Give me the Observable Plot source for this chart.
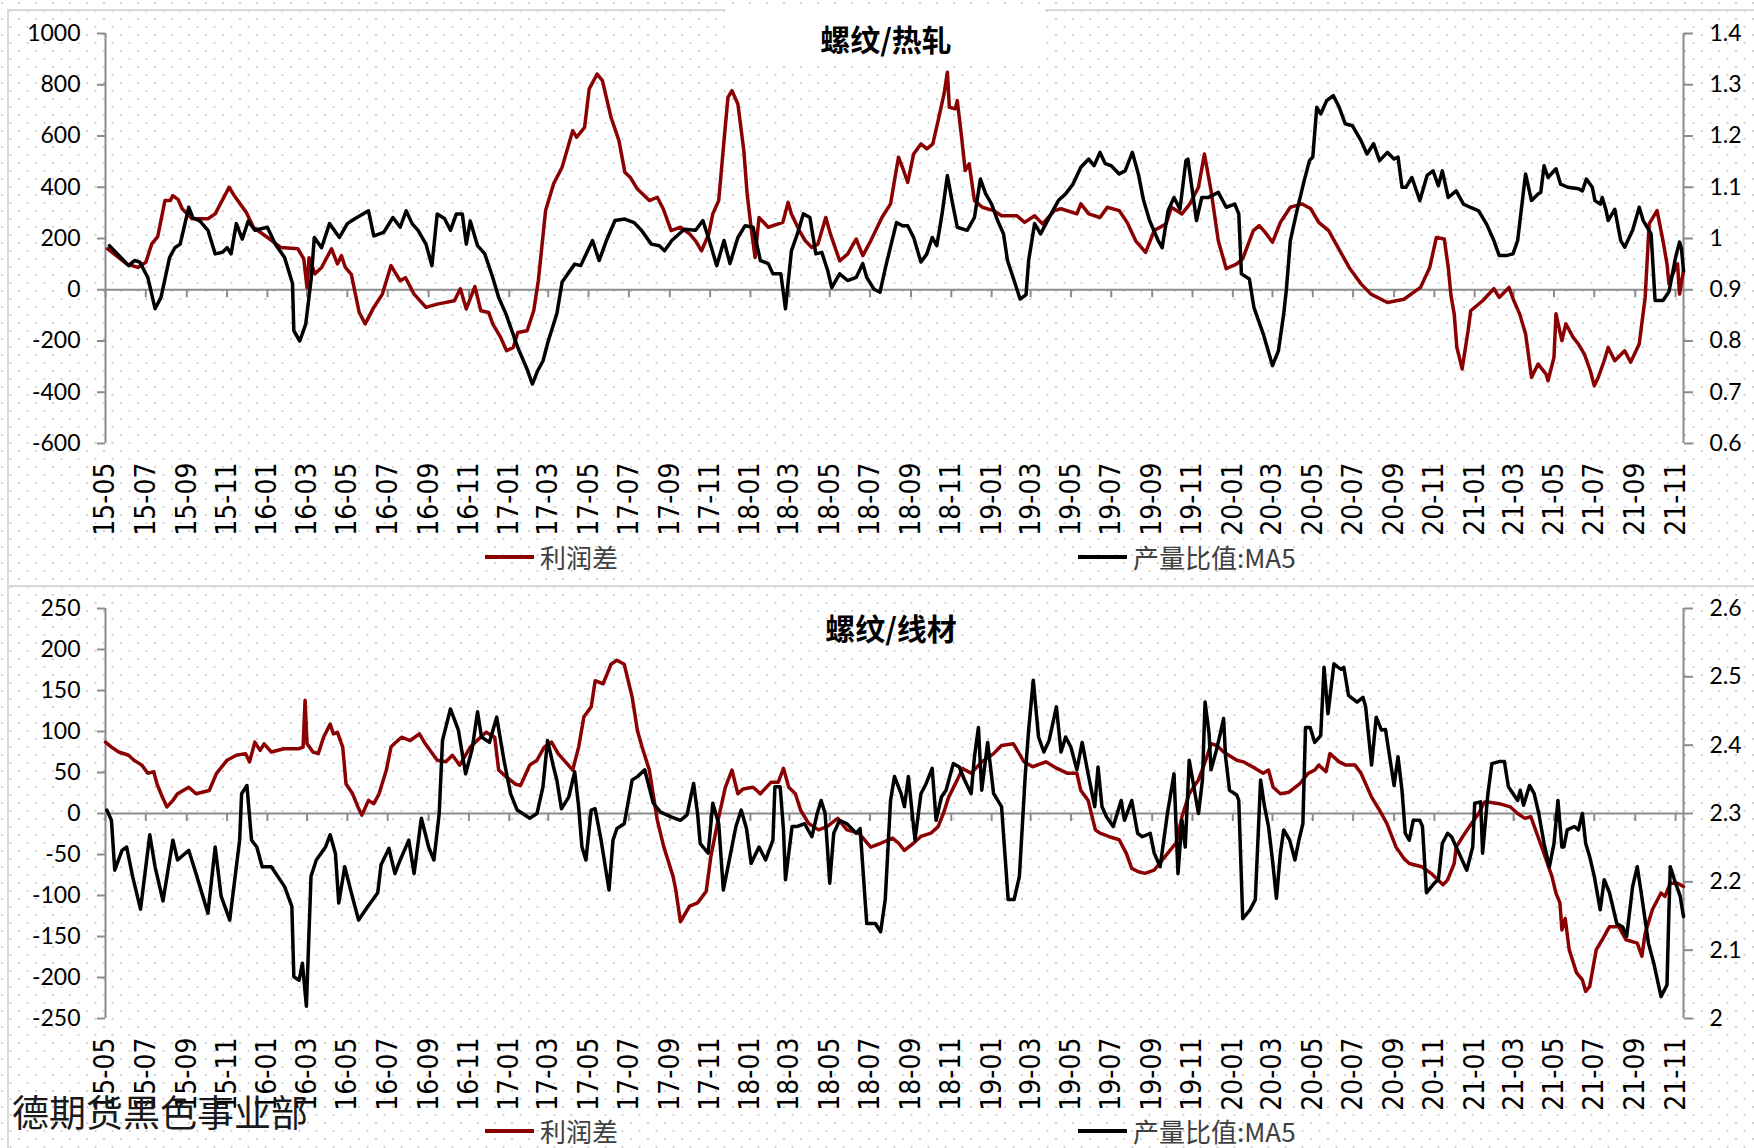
<!DOCTYPE html>
<html>
<head>
<meta charset="utf-8">
<script src="https://cdn.jsdelivr.net/npm/d3@7"></script>
<script src="https://cdn.jsdelivr.net/npm/@observablehq/plot@0.6"></script>
<style>
  html, body { margin: 0; padding: 0; }
  body { width: 1754px; height: 1148px; overflow: hidden; position: relative; background: #fff; }
  #bg { position: absolute; left: 0; top: 0; width: 1754px; height: 1148px;
    background-image: url("data:image/svg+xml;utf8,<svg xmlns='http://www.w3.org/2000/svg' width='17' height='16'><rect x='1' y='2' width='2' height='2' fill='%23d3d3d3'/><rect x='9.5' y='10' width='2' height='2' fill='%23d3d3d3'/></svg>");
    background-size: 17px 16px; }
  .panel { position: absolute; border: 2px solid #d9d9d9; box-sizing: border-box; }
  .titlebox { position: absolute; background: #fff; }
  .title { position: absolute; transform: translate(-50%, -50%); font-family: "Noto Sans CJK SC", sans-serif; font-weight: 700; font-size: 30px; line-height: 1; color: #000; white-space: nowrap; }
  .chart { position: absolute; left: 0; }
  .legend { position: absolute; display: flex; align-items: center; font-family: "Noto Sans CJK SC", sans-serif; font-size: 26px; line-height: 1; color: #404040; white-space: nowrap; transform: translateY(-50%); }
  .legend .sw { display: inline-block; width: 49px; height: 4px; margin-right: 6px; }
  .mark { position: absolute; left: 12px; top: 1093px; font-family: "Noto Sans CJK SC", sans-serif; font-size: 37px; line-height: 1; font-weight: 400; color: #1a1a1a; white-space: nowrap; }
</style>
</head>
<body>
<div id="bg"></div>
<div class="panel" style="left:7px;top:9px;width:1800px;height:578px;"></div>
<div class="panel" style="left:7px;top:585px;width:1800px;height:700px;"></div>
<div class="titlebox" style="left:725px;top:8px;width:320px;height:54px;"></div>
<div id="top" class="chart" style="top:0px;"></div>
<div id="bottom" class="chart" style="top:575px;"></div>
<div class="title" style="left:886px;top:38px;">螺纹/热轧</div>
<div class="title" style="left:891px;top:627px;">螺纹/线材</div>
<div class="legend" style="left:485px;top:557px;"><span class="sw" style="background:#8b0000"></span>利润差</div>
<div class="legend" style="left:1078px;top:557px;"><span class="sw" style="background:#000"></span>产量比值:MA5</div>
<div class="legend" style="left:485px;top:1131px;"><span class="sw" style="background:#8b0000"></span>利润差</div>
<div class="legend" style="left:1078px;top:1131px;"><span class="sw" style="background:#000"></span>产量比值:MA5</div>
<div class="mark">德期货黑色事业部</div>
<script>
// ---------- data ----------
const seriesNames = ["利润差", "产量比值:MA5"];
const titles = ["螺纹/热轧", "螺纹/线材"];

// 螺纹/热轧: 利润差 (left axis)
const hcProfit = [["2015-05-04",160],["2015-06-02",101],["2015-06-19",87],["2015-07-01",107],["2015-07-10",179],["2015-07-19",207],["2015-07-30",348],["2015-08-07",348],["2015-08-11",367],["2015-08-19",352],["2015-08-25",316],["2015-09-09",277],["2015-10-03",277],["2015-10-14",296],["2015-11-04",400],["2015-11-12",367],["2015-11-30",302],["2015-12-11",243],["2016-01-04",199],["2016-01-21",165],["2016-02-16",160],["2016-02-25",121],["2016-03-01",8],["2016-03-04",125],["2016-03-13",62],["2016-03-23",87],["2016-04-07",160],["2016-04-16",101],["2016-04-22",133],["2016-04-28",87],["2016-05-07",60],["2016-05-19",-89],["2016-05-28",-133],["2016-06-10",-69],["2016-06-23",-17],["2016-07-06",94],["2016-07-20",35],["2016-07-28",47],["2016-08-10",-17],["2016-08-28",-69],["2016-09-14",-56],["2016-10-10",-43],["2016-10-19",4],["2016-10-28",-75],["2016-11-10",12],["2016-11-19",-82],["2016-12-01",-89],["2016-12-07",-133],["2016-12-19",-186],["2016-12-28",-238],["2017-01-07",-225],["2017-01-14",-167],["2017-01-28",-160],["2017-02-07",-82],["2017-02-14",35],["2017-02-25",309],["2017-03-09",413],["2017-03-22",478],["2017-04-07",621],["2017-04-13",595],["2017-04-25",634],["2017-05-02",784],["2017-05-14",842],["2017-05-22",816],["2017-06-04",673],["2017-06-16",582],["2017-06-25",458],["2017-07-03",439],["2017-07-14",393],["2017-08-01",348],["2017-08-13",361],["2017-08-22",316],["2017-09-03",231],["2017-09-17",244],["2017-10-01",218],["2017-10-10",191],["2017-10-19",152],["2017-10-30",218],["2017-11-05",296],["2017-11-14",348],["2017-11-22",582],["2017-11-28",751],["2017-12-04",777],["2017-12-13",725],["2017-12-22",543],["2017-12-27",374],["2018-01-02",243],["2018-01-08",126],["2018-01-14",282],["2018-01-28",244],["2018-02-19",263],["2018-02-27",341],["2018-03-04",296],["2018-03-16",231],["2018-03-25",191],["2018-04-04",165],["2018-04-13",178],["2018-04-25",282],["2018-05-02",218],["2018-05-16",113],["2018-05-28",139],["2018-06-10",198],["2018-06-20",133],["2018-07-02",191],["2018-07-19",282],["2018-08-01",335],["2018-08-13",517],["2018-08-19",478],["2018-08-27",419],["2018-09-05",530],["2018-09-16",569],["2018-09-25",550],["2018-10-04",569],["2018-10-12",660],["2018-10-21",764],["2018-10-26",849],["2018-10-29",712],["2018-11-07",706],["2018-11-10",738],["2018-11-16",608],["2018-11-22",465],["2018-11-28",491],["2018-12-06",348],["2018-12-18",322],["2019-01-04",309],["2019-01-16",289],["2019-02-08",289],["2019-02-20",263],["2019-03-07",289],["2019-03-19",257],["2019-04-06",309],["2019-04-16",316],["2019-05-10",296],["2019-05-16",335],["2019-05-28",296],["2019-06-14",282],["2019-06-25",322],["2019-07-13",309],["2019-07-25",263],["2019-08-07",191],["2019-08-22",146],["2019-09-04",231],["2019-09-22",257],["2019-09-30",322],["2019-10-16",296],["2019-10-28",335],["2019-11-10",400],["2019-11-19",530],["2019-11-29",387],["2019-12-10",191],["2019-12-22",82],["2020-01-07",101],["2020-01-16",121],["2020-02-01",231],["2020-02-10",250],["2020-02-19",224],["2020-03-01",185],["2020-03-13",263],["2020-03-28",322],["2020-04-15",335],["2020-04-28",316],["2020-05-10",263],["2020-05-25",231],["2020-06-11",152],["2020-06-25",87],["2020-07-13",23],["2020-07-28",-17],["2020-08-22",-50],["2020-09-16",-37],["2020-10-11",9],["2020-10-25",87],["2020-11-04",204],["2020-11-16",198],["2020-11-22",87],["2020-11-26",-20],["2020-12-01",-94],["2020-12-05",-225],["2020-12-13",-309],["2020-12-22",-160],["2020-12-26",-82],["2021-01-13",-43],["2021-01-30",4],["2021-02-07",-30],["2021-02-22",9],["2021-02-28",-35],["2021-03-10",-94],["2021-03-19",-172],["2021-03-28",-342],["2021-04-07",-290],["2021-04-19",-329],["2021-04-22",-355],["2021-05-01",-264],["2021-05-04",-94],["2021-05-13",-199],["2021-05-19",-133],["2021-05-30",-186],["2021-06-07",-212],["2021-06-16",-251],["2021-06-25",-316],["2021-07-01",-375],["2021-07-07",-342],["2021-07-16",-277],["2021-07-22",-225],["2021-08-01",-277],["2021-08-16",-238],["2021-08-25",-283],["2021-09-07",-212],["2021-09-16",-30],["2021-09-22",257],["2021-10-04",309],["2021-10-13",191],["2021-10-19",101],["2021-10-22",23],["2021-10-28",62],["2021-11-04",101],["2021-11-07",-17],["2021-11-13",75]];

// 螺纹/热轧: 产量比值:MA5 (right axis)
const hcRatio = [["2015-05-07",0.986],["2015-05-22",0.966],["2015-06-05",0.947],["2015-06-14",0.957],["2015-06-22",0.954],["2015-07-04",0.924],["2015-07-15",0.863],["2015-07-24",0.885],["2015-08-06",0.963],["2015-08-14",0.982],["2015-08-22",0.989],["2015-08-28",1.022],["2015-09-04",1.061],["2015-09-10",1.041],["2015-09-21",1.034],["2015-10-03",1.016],["2015-10-14",0.970],["2015-10-25",0.973],["2015-11-01",0.982],["2015-11-07",0.970],["2015-11-15",1.029],["2015-11-24",0.999],["2015-12-03",1.034],["2015-12-13",1.016],["2016-01-01",1.022],["2016-01-13",0.989],["2016-01-27",0.963],["2016-02-08",0.912],["2016-02-10",0.820],["2016-02-19",0.800],["2016-02-28",0.833],["2016-03-07",0.918],["2016-03-12",1.002],["2016-03-23",0.982],["2016-04-04",1.029],["2016-04-19",1.002],["2016-05-01",1.029],["2016-05-13",1.039],["2016-06-02",1.054],["2016-06-10",1.005],["2016-06-25",1.012],["2016-07-09",1.041],["2016-07-20",1.022],["2016-07-29",1.054],["2016-08-07",1.029],["2016-08-16",1.016],["2016-08-28",0.989],["2016-09-06",0.947],["2016-09-14",1.048],["2016-09-25",1.039],["2016-10-04",1.016],["2016-10-13",1.048],["2016-10-22",1.048],["2016-10-28",0.989],["2016-11-03",1.034],["2016-11-14",0.986],["2016-11-25",0.970],["2016-12-07",0.924],["2016-12-16",0.885],["2016-12-27",0.853],["2017-01-14",0.787],["2017-01-28",0.745],["2017-02-05",0.716],["2017-02-13",0.742],["2017-02-21",0.761],["2017-03-01",0.800],["2017-03-14",0.853],["2017-03-22",0.915],["2017-04-10",0.950],["2017-04-19",0.947],["2017-05-07",0.996],["2017-05-17",0.957],["2017-05-28",0.996],["2017-06-10",1.035],["2017-06-25",1.038],["2017-07-09",1.031],["2017-07-20",1.016],["2017-08-04",0.989],["2017-08-16",0.986],["2017-08-24",0.976],["2017-09-04",0.996],["2017-09-23",1.018],["2017-10-10",1.016],["2017-10-21",1.035],["2017-10-30",0.999],["2017-11-11",0.947],["2017-11-22",0.996],["2017-12-01",0.951],["2017-12-13",1.002],["2017-12-24",1.025],["2018-01-05",1.022],["2018-01-16",0.957],["2018-01-28",0.951],["2018-02-04",0.931],["2018-02-16",0.931],["2018-02-23",0.863],["2018-03-04",0.976],["2018-03-13",1.009],["2018-03-22",1.048],["2018-04-01",1.041],["2018-04-10",0.970],["2018-04-19",0.973],["2018-04-28",0.937],["2018-05-04",0.904],["2018-05-16",0.931],["2018-05-28",0.918],["2018-06-10",0.924],["2018-06-20",0.951],["2018-06-26",0.924],["2018-07-07",0.901],["2018-07-16",0.895],["2018-07-25",0.947],["2018-08-10",1.031],["2018-08-19",1.025],["2018-08-27",1.025],["2018-09-05",1.002],["2018-09-16",0.954],["2018-09-25",0.970],["2018-10-03",1.002],["2018-10-10",0.986],["2018-10-18",1.048],["2018-10-26",1.123],["2018-11-02",1.074],["2018-11-10",1.022],["2018-11-25",1.016],["2018-12-06",1.041],["2018-12-15",1.116],["2018-12-23",1.087],["2019-01-01",1.067],["2019-01-10",1.035],["2019-01-19",1.009],["2019-01-25",0.957],["2019-02-04",0.918],["2019-02-13",0.882],["2019-02-22",0.890],["2019-02-26",0.957],["2019-03-07",1.029],["2019-03-16",1.009],["2019-04-01",1.048],["2019-04-12",1.074],["2019-04-23",1.087],["2019-05-04",1.106],["2019-05-16",1.139],["2019-05-28",1.155],["2019-06-05",1.142],["2019-06-14",1.168],["2019-06-22",1.146],["2019-07-01",1.142],["2019-07-13",1.126],["2019-07-22",1.132],["2019-08-02",1.168],["2019-08-11",1.126],["2019-08-19",1.074],["2019-08-28",1.035],["2019-09-10",0.996],["2019-09-16",0.982],["2019-09-25",1.054],["2019-10-04",1.080],["2019-10-13",1.057],["2019-10-22",1.152],["2019-10-25",1.155],["2019-11-07",1.035],["2019-11-15",1.080],["2019-11-25",1.080],["2019-12-10",1.090],["2019-12-22",1.061],["2020-01-04",1.067],["2020-01-10",1.048],["2020-01-14",0.931],["2020-01-26",0.921],["2020-02-02",0.865],["2020-02-16",0.814],["2020-02-28",0.761],["2020-03-01",0.752],["2020-03-10",0.781],["2020-03-18",0.853],["2020-03-22",0.900],["2020-03-28",0.996],["2020-04-07",1.054],["2020-04-18",1.113],["2020-04-26",1.152],["2020-05-01",1.159],["2020-05-07",1.256],["2020-05-13",1.243],["2020-05-22",1.269],["2020-06-01",1.279],["2020-06-10",1.256],["2020-06-19",1.224],["2020-06-30",1.220],["2020-07-13",1.191],["2020-07-22",1.165],["2020-08-01",1.185],["2020-08-10",1.152],["2020-08-22",1.168],["2020-09-01",1.155],["2020-09-07",1.159],["2020-09-13",1.100],["2020-09-19",1.100],["2020-09-28",1.119],["2020-10-10",1.074],["2020-10-21",1.123],["2020-10-30",1.132],["2020-11-07",1.103],["2020-11-13",1.132],["2020-11-22",1.080],["2020-12-04",1.093],["2020-12-15",1.067],["2020-12-25",1.061],["2021-01-07",1.054],["2021-01-19",1.028],["2021-01-30",0.996],["2021-02-07",0.967],["2021-02-19",0.967],["2021-02-28",0.970],["2021-03-07",0.996],["2021-03-13",1.061],["2021-03-19",1.126],["2021-03-28",1.074],["2021-04-07",1.087],["2021-04-11",1.090],["2021-04-16",1.142],["2021-04-22",1.119],["2021-05-04",1.136],["2021-05-11",1.106],["2021-05-22",1.100],["2021-06-07",1.097],["2021-06-13",1.093],["2021-06-19",1.116],["2021-06-28",1.100],["2021-07-02",1.074],["2021-07-10",1.067],["2021-07-13",1.080],["2021-07-19",1.054],["2021-07-22",1.035],["2021-08-01",1.057],["2021-08-10",0.996],["2021-08-16",0.983],["2021-08-28",1.016],["2021-09-07",1.061],["2021-09-13",1.035],["2021-09-25",1.009],["2021-09-30",0.900],["2021-10-01",0.879],["2021-10-13",0.879],["2021-10-22",0.896],["2021-11-01",0.963],["2021-11-07",0.993],["2021-11-10",0.980],["2021-11-13",0.937]];

// 螺纹/线材: 利润差 (left axis)
const lwProfit = [["2015-05-01",87],["2015-05-10",81],["2015-05-21",75],["2015-06-05",71],["2015-06-13",65],["2015-06-25",59],["2015-07-04",49],["2015-07-13",51],["2015-07-18",36],["2015-07-26",20],["2015-08-02",8],["2015-08-11",16],["2015-08-18",24],["2015-09-04",32],["2015-09-15",24],["2015-10-05",28],["2015-10-16",49],["2015-11-01",65],["2015-11-15",71],["2015-11-29",73],["2015-12-05",63],["2015-12-13",87],["2015-12-21",77],["2015-12-27",85],["2016-01-07",75],["2016-01-26",79],["2016-02-18",79],["2016-02-24",81],["2016-02-27",138],["2016-03-01",85],["2016-03-10",75],["2016-03-18",73],["2016-03-26",93],["2016-04-05",109],["2016-04-10",97],["2016-04-16",99],["2016-04-24",81],["2016-04-29",36],["2016-05-09",24],["2016-05-17",8],["2016-05-23",-2],["2016-06-02",16],["2016-06-10",12],["2016-06-18",24],["2016-06-29",53],["2016-07-06",81],["2016-07-11",85],["2016-07-22",93],["2016-08-04",89],["2016-08-18",97],["2016-08-27",85],["2016-09-14",65],["2016-09-27",63],["2016-10-07",71],["2016-10-18",59],["2016-11-03",81],["2016-11-16",91],["2016-11-27",99],["2016-12-10",93],["2016-12-16",53],["2016-12-27",45],["2017-01-10",36],["2017-01-18",34],["2017-02-01",59],["2017-02-12",65],["2017-02-23",81],["2017-03-06",87],["2017-03-16",73],["2017-03-27",63],["2017-04-07",53],["2017-04-16",81],["2017-04-24",118],["2017-05-05",130],["2017-05-11",162],["2017-05-23",158],["2017-06-04",182],["2017-06-13",187],["2017-06-24",182],["2017-07-06",142],["2017-07-14",101],["2017-07-21",81],["2017-08-01",53],["2017-08-13",-8],["2017-08-23",-41],["2017-09-06",-77],["2017-09-10",-93],["2017-09-17",-132],["2017-10-01",-113],["2017-10-13",-109],["2017-10-26",-95],["2017-11-02",-53],["2017-11-13",-8],["2017-11-24",32],["2017-12-04",53],["2017-12-13",24],["2017-12-21",30],["2018-01-05",32],["2018-01-16",24],["2018-02-01",38],["2018-02-12",38],["2018-02-20",55],["2018-02-28",32],["2018-03-10",24],["2018-03-18",4],["2018-03-30",-12],["2018-04-14",-20],["2018-04-27",-16],["2018-05-13",-6],["2018-05-27",-20],["2018-06-14",-24],["2018-07-02",-41],["2018-07-18",-36],["2018-08-04",-30],["2018-08-13",-36],["2018-08-22",-45],["2018-09-05",-36],["2018-09-16",-28],["2018-10-01",-24],["2018-10-12",-16],["2018-10-20",0],["2018-10-28",20],["2018-11-10",41],["2018-11-18",55],["2018-12-01",49],["2018-12-17",63],["2019-01-04",73],["2019-01-16",83],["2019-02-03",85],["2019-02-19",63],["2019-03-04",57],["2019-03-24",63],["2019-04-10",55],["2019-04-26",49],["2019-05-10",49],["2019-05-16",28],["2019-05-27",16],["2019-06-07",-20],["2019-06-14",-24],["2019-06-27",-28],["2019-07-13",-32],["2019-07-24",-49],["2019-08-01",-67],["2019-08-11",-71],["2019-08-21",-73],["2019-09-04",-69],["2019-09-16",-57],["2019-09-24",-49],["2019-10-07",-36],["2019-10-16",-4],["2019-10-27",24],["2019-11-10",41],["2019-11-21",65],["2019-11-29",85],["2019-12-08",83],["2019-12-18",75],["2020-01-07",65],["2020-01-17",63],["2020-02-04",55],["2020-02-16",49],["2020-02-24",53],["2020-03-02",32],["2020-03-13",24],["2020-03-26",26],["2020-04-11",36],["2020-04-24",49],["2020-05-04",53],["2020-05-10",59],["2020-05-21",51],["2020-05-27",73],["2020-06-10",63],["2020-06-20",59],["2020-07-04",59],["2020-07-13",49],["2020-07-29",20],["2020-08-10",4],["2020-08-21",-12],["2020-09-04",-41],["2020-09-16",-55],["2020-09-24",-61],["2020-10-13",-65],["2020-10-27",-73],["2020-11-14",-87],["2020-11-21",-81],["2020-12-01",-61],["2020-12-04",-41],["2020-12-14",-28],["2020-12-24",-16],["2021-01-07",0],["2021-01-16",14],["2021-01-21",14],["2021-02-07",12],["2021-02-24",8],["2021-03-07",0],["2021-03-18",-6],["2021-03-27",-4],["2021-04-16",-49],["2021-04-28",-77],["2021-05-04",-97],["2021-05-10",-109],["2021-05-13",-142],["2021-05-18",-128],["2021-05-24",-166],["2021-06-04",-194],["2021-06-13",-203],["2021-06-18",-217],["2021-06-24",-211],["2021-07-04",-166],["2021-07-13",-154],["2021-07-24",-138],["2021-08-07",-138],["2021-08-18",-154],["2021-09-04",-158],["2021-09-11",-174],["2021-09-16",-146],["2021-09-27",-117],["2021-10-10",-97],["2021-10-16",-101],["2021-10-24",-85],["2021-11-04",-85],["2021-11-13",-89]];

// 螺纹/线材: 产量比值:MA5 (right axis)
const lwRatio = [["2015-05-03",2.305],["2015-05-10",2.290],["2015-05-15",2.217],["2015-05-26",2.246],["2015-06-02",2.251],["2015-06-11",2.208],["2015-06-23",2.160],["2015-07-07",2.269],["2015-07-15",2.222],["2015-07-27",2.172],["2015-08-11",2.261],["2015-08-18",2.232],["2015-09-04",2.246],["2015-09-15",2.212],["2015-10-03",2.154],["2015-10-14",2.251],["2015-10-23",2.179],["2015-11-05",2.144],["2015-11-15",2.222],["2015-11-20",2.261],["2015-11-23",2.329],["2015-12-01",2.341],["2015-12-08",2.261],["2015-12-16",2.251],["2015-12-24",2.222],["2016-01-07",2.222],["2016-01-27",2.193],["2016-02-07",2.164],["2016-02-10",2.061],["2016-02-18",2.056],["2016-02-23",2.081],["2016-02-29",2.018],["2016-03-07",2.208],["2016-03-15",2.232],["2016-03-29",2.251],["2016-04-05",2.269],["2016-04-13",2.241],["2016-04-18",2.169],["2016-04-27",2.222],["2016-05-07",2.184],["2016-05-18",2.144],["2016-06-01",2.164],["2016-06-16",2.184],["2016-06-21",2.225],["2016-07-03",2.249],["2016-07-12",2.212],["2016-07-20",2.232],["2016-08-02",2.261],["2016-08-10",2.212],["2016-08-21",2.293],["2016-09-01",2.251],["2016-09-09",2.232],["2016-09-17",2.300],["2016-09-22",2.407],["2016-10-04",2.453],["2016-10-16",2.422],["2016-10-27",2.358],["2016-11-06",2.395],["2016-11-14",2.449],["2016-11-20",2.412],["2016-12-02",2.404],["2016-12-13",2.441],["2016-12-24",2.378],["2017-01-03",2.329],["2017-01-13",2.305],["2017-02-01",2.293],["2017-02-12",2.300],["2017-02-21",2.339],["2017-02-28",2.407],["2017-03-09",2.368],["2017-03-14",2.349],["2017-03-21",2.307],["2017-04-01",2.324],["2017-04-10",2.361],["2017-04-16",2.310],["2017-04-21",2.251],["2017-04-27",2.232],["2017-05-05",2.305],["2017-05-11",2.307],["2017-05-20",2.261],["2017-06-01",2.188],["2017-06-07",2.261],["2017-06-13",2.278],["2017-06-24",2.285],["2017-07-06",2.349],["2017-07-14",2.354],["2017-07-25",2.364],["2017-08-07",2.315],["2017-08-18",2.302],["2017-09-03",2.295],["2017-09-17",2.290],["2017-09-27",2.298],["2017-10-07",2.344],["2017-10-13",2.300],["2017-10-17",2.256],["2017-10-29",2.242],["2017-11-05",2.315],["2017-11-14",2.285],["2017-11-21",2.188],["2017-12-01",2.237],["2017-12-10",2.281],["2017-12-18",2.305],["2017-12-26",2.278],["2018-01-02",2.227],["2018-01-14",2.251],["2018-01-24",2.232],["2018-02-04",2.261],["2018-02-07",2.339],["2018-02-15",2.339],["2018-02-20",2.276],["2018-02-23",2.203],["2018-03-05",2.281],["2018-03-13",2.281],["2018-03-24",2.285],["2018-04-04",2.266],["2018-04-12",2.300],["2018-04-18",2.319],["2018-04-24",2.300],["2018-05-01",2.198],["2018-05-07",2.271],["2018-05-16",2.290],["2018-05-27",2.285],["2018-06-10",2.271],["2018-06-16",2.278],["2018-06-26",2.139],["2018-07-09",2.139],["2018-07-17",2.127],["2018-07-24",2.174],["2018-08-01",2.319],["2018-08-07",2.354],["2018-08-17",2.329],["2018-08-22",2.310],["2018-08-28",2.354],["2018-09-07",2.261],["2018-09-16",2.329],["2018-09-24",2.344],["2018-10-03",2.366],["2018-10-09",2.290],["2018-10-17",2.324],["2018-10-24",2.334],["2018-11-04",2.373],["2018-11-13",2.368],["2018-11-21",2.349],["2018-12-01",2.329],["2018-12-06",2.383],["2018-12-12",2.426],["2018-12-17",2.334],["2018-12-26",2.404],["2019-01-04",2.329],["2019-01-16",2.310],["2019-01-21",2.242],["2019-01-26",2.174],["2019-02-04",2.174],["2019-02-12",2.208],["2019-02-21",2.358],["2019-02-26",2.422],["2019-03-05",2.495],["2019-03-13",2.412],["2019-03-21",2.390],["2019-03-29",2.407],["2019-04-09",2.456],["2019-04-16",2.390],["2019-04-23",2.412],["2019-05-01",2.397],["2019-05-10",2.364],["2019-05-18",2.404],["2019-05-27",2.358],["2019-06-06",2.310],["2019-06-11",2.368],["2019-06-17",2.310],["2019-06-24",2.295],["2019-07-04",2.281],["2019-07-16",2.319],["2019-07-21",2.290],["2019-08-01",2.319],["2019-08-10",2.271],["2019-08-17",2.266],["2019-08-29",2.271],["2019-09-04",2.242],["2019-09-13",2.222],["2019-09-24",2.300],["2019-10-04",2.358],["2019-10-10",2.212],["2019-10-16",2.290],["2019-10-21",2.251],["2019-10-27",2.378],["2019-11-10",2.300],["2019-11-16",2.349],["2019-11-20",2.463],["2019-11-26",2.417],["2019-11-29",2.364],["2019-12-07",2.392],["2019-12-13",2.417],["2019-12-18",2.439],["2019-12-21",2.383],["2019-12-27",2.334],["2020-01-07",2.327],["2020-01-10",2.319],["2020-01-16",2.146],["2020-01-27",2.159],["2020-02-04",2.174],["2020-02-12",2.349],["2020-02-18",2.310],["2020-02-24",2.281],["2020-03-01",2.232],["2020-03-07",2.176],["2020-03-13",2.242],["2020-03-18",2.276],["2020-03-27",2.261],["2020-04-04",2.232],["2020-04-10",2.261],["2020-04-16",2.285],["2020-04-20",2.426],["2020-04-27",2.426],["2020-05-04",2.404],["2020-05-13",2.414],["2020-05-18",2.514],["2020-05-24",2.446],["2020-06-02",2.519],["2020-06-07",2.515],["2020-06-13",2.511],["2020-06-17",2.514],["2020-06-24",2.473],["2020-07-07",2.463],["2020-07-16",2.470],["2020-07-20",2.456],["2020-07-29",2.371],["2020-08-05",2.441],["2020-08-13",2.422],["2020-08-19",2.423],["2020-09-01",2.341],["2020-09-07",2.383],["2020-09-13",2.334],["2020-09-18",2.271],["2020-09-24",2.261],["2020-09-30",2.290],["2020-10-10",2.290],["2020-10-14",2.281],["2020-10-20",2.184],["2020-11-01",2.198],["2020-11-07",2.203],["2020-11-13",2.256],["2020-11-21",2.271],["2020-11-27",2.266],["2020-12-04",2.251],["2020-12-13",2.232],["2020-12-20",2.217],["2020-12-29",2.251],["2021-01-01",2.315],["2021-01-10",2.317],["2021-01-13",2.242],["2021-01-21",2.329],["2021-01-27",2.373],["2021-02-07",2.376],["2021-02-15",2.376],["2021-02-21",2.339],["2021-03-07",2.319],["2021-03-11",2.334],["2021-03-16",2.312],["2021-03-25",2.341],["2021-04-01",2.329],["2021-04-08",2.300],["2021-04-16",2.256],["2021-04-24",2.222],["2021-05-01",2.256],["2021-05-07",2.319],["2021-05-13",2.251],["2021-05-16",2.251],["2021-05-21",2.276],["2021-06-01",2.281],["2021-06-07",2.276],["2021-06-13",2.300],["2021-06-18",2.256],["2021-06-24",2.237],["2021-07-01",2.208],["2021-07-10",2.159],["2021-07-16",2.203],["2021-07-24",2.184],["2021-08-04",2.139],["2021-08-13",2.134],["2021-08-19",2.120],["2021-08-28",2.193],["2021-09-04",2.222],["2021-09-10",2.184],["2021-09-21",2.110],["2021-09-29",2.081],["2021-10-10",2.032],["2021-10-19",2.049],["2021-10-22",2.159],["2021-10-24",2.222],["2021-11-01",2.198],["2021-11-08",2.179],["2021-11-13",2.149]];

// axis ticks
const hcLeftTicks = [-600, -400, -200, 0, 200, 400, 600, 800, 1000];
const hcRightTicks = [0.6, 0.7, 0.8, 0.9, 1.0, 1.1, 1.2, 1.3, 1.4];
const lwLeftTicks = [-250, -200, -150, -100, -50, 0, 50, 100, 150, 200, 250];
const lwRightTicks = [2.0, 2.1, 2.2, 2.3, 2.4, 2.5, 2.6];
const xStart = new Date("2015-05-01");
const xEnd = new Date("2021-11-13");

// ---------- drawing ----------
const RED = "#8b0000";
const AXIS = "#8c8c8c";
const monthTicks = d3.utcMonth.every(2).range(xStart, new Date("2021-11-02"));
const fmtMonth = d3.utcFormat("%y-%m");
const fmtRight = v => String(+v.toFixed(1));

function panel({profit, ratio, leftTicks, rightTicks, rMin, rMax}) {
  const lMin = leftTicks[0], lMax = leftTicks[leftTicks.length - 1];
  const toLeft = v => lMin + (v - rMin) / (rMax - rMin) * (lMax - lMin);
  const fromLeft = y => rMin + (y - lMin) / (lMax - lMin) * (rMax - rMin);
  return Plot.plot({
    width: 1754, height: 530,
    marginLeft: 105, marginRight: 71, marginTop: 33, marginBottom: 87,
    style: {background: "transparent", fontFamily: "Lato, 'Open Sans', sans-serif", fontSize: "23px", color: "#000", overflow: "visible"},
    x: {type: "utc", domain: [xStart, xEnd], axis: null},
    y: {domain: [lMin, lMax]},
    marks: [
      Plot.ruleY([0], {stroke: AXIS, strokeWidth: 2}),
      Plot.ruleX(monthTicks, {x: d => d, y1: 0, y2: 0, insetBottom: -8, stroke: AXIS, strokeWidth: 2}),
      Plot.ruleX([xStart], {y1: lMin, y2: lMax, stroke: AXIS, strokeWidth: 2}),
      Plot.ruleX([xEnd], {y1: lMin, y2: lMax, stroke: AXIS, strokeWidth: 2}),
      Plot.axisY(leftTicks, {anchor: "left", tickSize: 8, tickPadding: 17, tickFormat: d => String(d), stroke: AXIS, strokeWidth: 2, fill: "#000", label: null}),
      Plot.axisY(rightTicks.map(toLeft), {anchor: "right", tickSize: 9, tickPadding: 17, tickFormat: d => fmtRight(fromLeft(d)), stroke: AXIS, strokeWidth: 2, fill: "#000", label: null}),
      Plot.text(monthTicks, {x: d => d, text: d => fmtMonth(d), frameAnchor: "bottom", rotate: -90, textAnchor: "end", lineAnchor: "middle", dy: 19, fontFamily: "'Liberation Sans Narrow', 'DejaVu Sans Condensed', 'Liberation Sans', sans-serif", fontSize: 28, fill: "#000"}),
      Plot.line(profit, {x: d => new Date(d[0]), y: d => d[1], stroke: RED, strokeWidth: 3.5, strokeLinejoin: "round"}),
      Plot.line(ratio, {x: d => new Date(d[0]), y: d => toLeft(d[1]), stroke: "#000", strokeWidth: 3.5, strokeLinejoin: "round"})
    ]
  });
}

document.getElementById("top").append(panel({profit: hcProfit, ratio: hcRatio, leftTicks: hcLeftTicks, rightTicks: hcRightTicks, rMin: 0.6, rMax: 1.4}));
document.getElementById("bottom").append(panel({profit: lwProfit, ratio: lwRatio, leftTicks: lwLeftTicks, rightTicks: lwRightTicks, rMin: 2.0, rMax: 2.6}));
</script>
</body>
</html>
